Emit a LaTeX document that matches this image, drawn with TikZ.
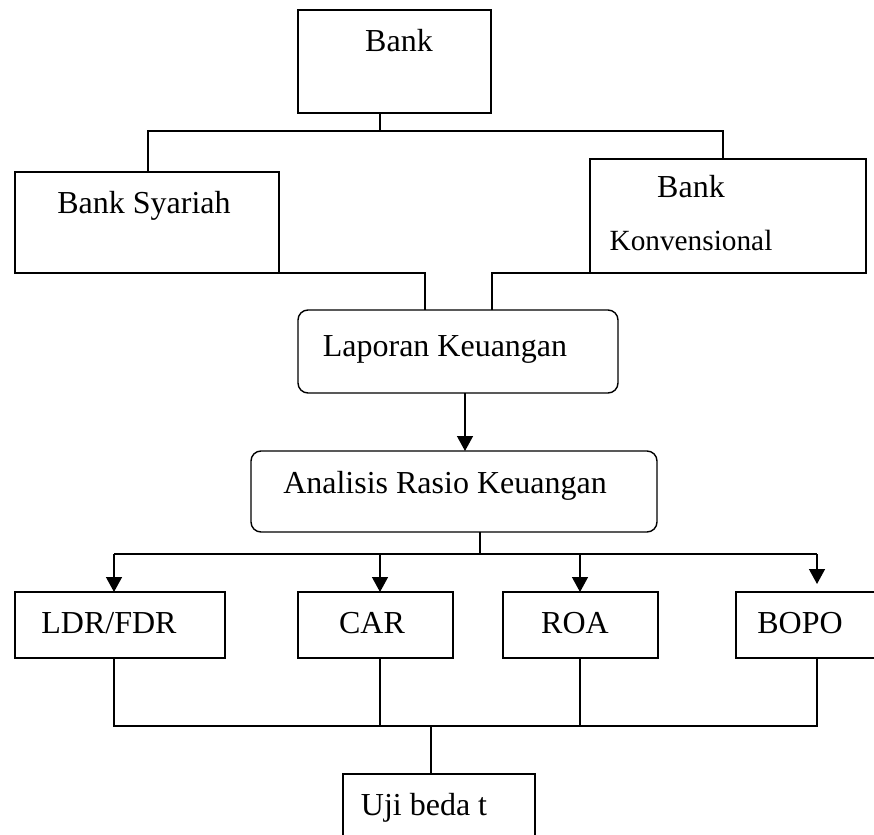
\documentclass[tikz,border=0pt]{standalone}
\usepackage{fontspec}
\setmainfont{Liberation Serif}
\usetikzlibrary{arrows.meta}
\begin{document}
\begin{tikzpicture}[x=1pt,y=-1pt,line width=1.4pt,
  box/.style={draw,inner sep=0pt,outer sep=0pt},
  rbox/.style={box,rounded corners=10pt},
  txt/.style={inner sep=0pt,anchor=base,font=\fontsize{32}{38}\selectfont},
  arr/.style={-{Triangle[length=15pt,width=16pt]}}]
\useasboundingbox (0,0) rectangle (874,834);
\clip (0,0) rectangle (874,834);
% boxes
\node[box,minimum width=193pt,minimum height=103pt] (bank) at (394.5,61.5) {};
\node[box,minimum width=264pt,minimum height=101pt] (syar) at (147,222.5) {};
\node[box,minimum width=276pt,minimum height=114pt] (konv) at (728,216) {};
\node[rbox,minimum width=320pt,minimum height=83pt] (lap) at (458,351.5) {};
\node[rbox,minimum width=406pt,minimum height=81pt] (ana) at (454,491.5) {};
\node[box,minimum width=210pt,minimum height=66pt] (ldr) at (120,625) {};
\node[box,minimum width=155pt,minimum height=66pt] (car) at (375.5,625) {};
\node[box,minimum width=155pt,minimum height=66pt] (roa) at (580.5,625) {};
\node[box,minimum width=164pt,minimum height=66pt] (bopo) at (818,625) {};
\node[box,minimum width=192pt,minimum height=86pt] (uji) at (439,817) {};
% texts
\node[txt] (tbank) at (399,52) {Bank};
\node[txt] (tsyar) at (144,214) {Bank Syariah};
\node[txt] (tkonv1) at (691,198) {Bank};
\node[txt,font=\fontsize{29.3}{35}\selectfont] (tkonv2) at (691,250) {Konvensional};
\node[txt] (tlap) at (445,356) {Laporan Keuangan};
\node[txt] (tana) at (445,493) {Analisis Rasio Keuangan};
\node[txt] (tldr) at (109,633) {LDR/FDR};
\node[txt] (tcar) at (372,633) {CAR};
\node[txt] (troa) at (575,633) {ROA};
\node[txt] (tbopo) at (800,633) {BOPO};
\node[txt] (tuji) at (424,815) {Uji beda t};
% top bus
\coordinate (busM) at (380,131);
\coordinate (busL) at (148,131);
\coordinate (busR) at (723,131);
\draw (bank.south -| busM) -- (busM);
\draw (syar.north -| busL) -- (busL) -- (busR) -- (konv.north -| busR);
% to laporan
\coordinate (s2) at (425,273);
\coordinate (k2) at (492,273);
\coordinate (s1) at (251,273);
\coordinate (k1) at (736,273);
\draw (s1) -- (s2) -- (lap.north -| s2);
\draw (k1) -- (k2) -- (lap.north -| k2);
% laporan -> analisis
\coordinate (a1) at (465,400);
\draw[arr] (lap.south -| a1) -- (ana.north -| a1);
% analisis bus
\coordinate (bm) at (480,554);
\coordinate (b1) at (114,554);
\coordinate (b2) at (380,554);
\coordinate (b3) at (580,554);
\coordinate (b4) at (817,554);
\draw (ana.south -| bm) -- (bm);
\draw (b1) -- (b4);
\draw[arr] (b1) -- (ldr.north -| b1);
\draw[arr] (b2) -- (car.north -| b2);
\draw[arr] (b3) -- (roa.north -| b3);
\draw[arr,shorten >=8pt] (b4) -- (bopo.north -| b4);
% bottom bus
\coordinate (c1) at (114,726);
\coordinate (c2) at (380,726);
\coordinate (c3) at (580,726);
\coordinate (c4) at (817,726);
\coordinate (cm) at (431,726);
\draw (ldr.south -| c1) -- (c1) -- (c4) -- (bopo.south -| c4);
\draw (car.south -| c2) -- (c2);
\draw (roa.south -| c3) -- (c3);
\draw (cm) -- (uji.north -| cm);
\end{tikzpicture}
\end{document}
